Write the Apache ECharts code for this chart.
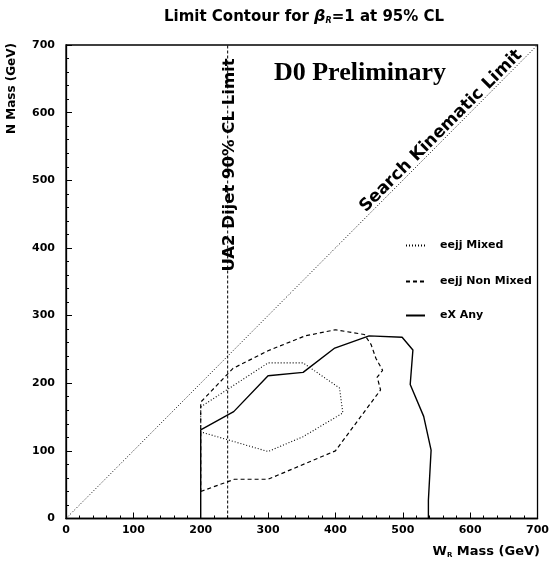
<!DOCTYPE html>
<html>
<head>
<meta charset="utf-8">
<script src="https://cdn.jsdelivr.net/npm/echarts@6/dist/echarts.min.js"></script>
<style>
html,body{margin:0;padding:0;background:#fff;}
#chart{width:552px;height:567px;}
</style>
</head>
<body>
<div id="chart"></div>
<script>
// ---- data ----
var xTicks = [0, 100, 200, 300, 400, 500, 600, 700];
var yTicks = [0, 100, 200, 300, 400, 500, 600, 700];
var seriesNames = ['eejj Mixed', 'eejj Non Mixed', 'eX Any'];
var eejjMixed = [[200,165],[300,230],[352,230],[406,193],[411,156],[352,121],[300,99],[200,128],[200,165]];
var eejjNonMixed = [[200,40],[250,58],[300,58],[400,100],[458,178],[467,190],[462,209],[470,219],[460,237],[453,257],[443,272],[400,279],[355,270],[300,248],[248,222],[200,172],[200,40]];
var eXAny = [[200,0],[200,131],[249,158],[300,211],[352,216],[399,252],[450,270],[499,268],[515,249],[511,198],[531,151],[542,101],[538,27],[538,0]];
var kinematicLimit = [[0,0],[700,700]];
var ua2Limit = [[240,0],[240,700]];

var FONT = 'DejaVu Sans';
var chart = echarts.init(document.getElementById('chart'), null, {renderer:'canvas'});

function mkLegend(name, top){
  return {
    data:[name], left:405, top:top, orient:'vertical', padding:0,
    itemWidth:19, itemHeight:10, selectedMode:false,
    itemStyle:{opacity:0},
    textStyle:{fontFamily:FONT, fontWeight:'bold', fontSize:11, color:'#000', padding:[0,0,0,10]}
  };
}
function lineSeries(name, data, type, w){
  return {
    name:name, type:'line', data:data, symbol:'none', silent:true, color:'#000',
    itemStyle:{color:'#000'},
    lineStyle:{color:'#000', width:w, type:type}, z:3
  };
}

var option = {
  animation:false,
  backgroundColor:'#fff',
  color:['#000'],
  title:{
    text:'Limit Contour for {b|β}{s|R}=1 at 95% CL',
    left:159, top:4,
    textStyle:{fontFamily:FONT, fontWeight:'bold', fontSize:15, color:'#000',
      rich:{
        b:{fontFamily:FONT, fontWeight:'bold', fontStyle:'italic', fontSize:16, color:'#000'},
        s:{fontFamily:FONT, fontWeight:'bold', fontStyle:'italic', fontSize:8, color:'#000', verticalAlign:'bottom', padding:[8,0,0,0]}
      }
    }
  },
  legend:[mkLegend(seriesNames[0],240), mkLegend(seriesNames[1],276), mkLegend(seriesNames[2],310)],
  grid:{left:66, top:45, right:10.5, bottom:48.5, show:true, borderColor:'#000', borderWidth:1.3, backgroundColor:'transparent'},
  xAxis:{
    type:'value', min:xTicks[0], max:xTicks[xTicks.length-1], interval:100,
    axisLine:{show:true, lineStyle:{color:'#000', width:1.3}},
    axisTick:{show:true, inside:true, length:6, lineStyle:{color:'#000'}},
    minorTick:{show:true, splitNumber:5, length:3, lineStyle:{color:'#000'}},
    splitLine:{show:false},
    axisLabel:{fontFamily:FONT, fontWeight:'bold', fontSize:11, color:'#000', margin:6}
  },
  yAxis:{
    type:'value', min:yTicks[0], max:yTicks[yTicks.length-1], interval:100,
    axisLine:{show:true, lineStyle:{color:'#000', width:1.3}},
    axisTick:{show:true, inside:true, length:6, lineStyle:{color:'#000'}},
    minorTick:{show:true, splitNumber:5, length:3, lineStyle:{color:'#000'}},
    splitLine:{show:false},
    axisLabel:{fontFamily:FONT, fontWeight:'bold', fontSize:11, color:'#000', margin:11}
  },
  series:[
    lineSeries(seriesNames[0], eejjMixed, [1,2], 1.1),
    lineSeries(seriesNames[1], eejjNonMixed, [4,3], 1.2),
    lineSeries(seriesNames[2], eXAny, 'solid', 1.4),
    {type:'line', data:kinematicLimit, symbol:'none', silent:true, color:'#000', lineStyle:{color:'#000', width:1, type:[1,2]}, z:2},
    {type:'line', data:ua2Limit, symbol:'none', silent:true, color:'#000', lineStyle:{color:'#000', width:1, type:[3,2]}, z:2}
  ],
  graphic:[
    {type:'text', x:12, y:43, rotation:Math.PI/2, z:10,
      style:{text:'N Mass (GeV)', fontFamily:FONT, fontWeight:'bold', fontSize:12, fill:'#000', align:'right', verticalAlign:'middle'}},
    {type:'text', x:540, y:552, z:10,
      style:{text:'W{s|R} Mass (GeV)', fontFamily:FONT, fontWeight:'bold', fontSize:13, fill:'#000', align:'right', verticalAlign:'middle',
        rich:{s:{fontFamily:FONT, fontWeight:'bold', fontSize:7, fill:'#000', padding:[7,0,0,0]}}}},
    {type:'text', x:360, y:73, z:10,
      style:{text:'D0 Preliminary', fontFamily:'Liberation Serif', fontWeight:'bold', fontSize:26, fill:'#000', align:'center', verticalAlign:'middle'}},
    {type:'text', x:229.5, y:165, rotation:Math.PI/2, z:10,
      style:{text:'UA2 Dijet 90% CL Limit', fontFamily:FONT, fontWeight:'bold', fontSize:16.5, fill:'#000', align:'center', verticalAlign:'middle'}},
    {type:'text', x:441, y:131, rotation:Math.PI/4, z:10,
      style:{text:'Search Kinematic Limit', fontFamily:FONT, fontWeight:'bold', fontSize:17, fill:'#000', align:'center', verticalAlign:'middle'}}
  ]
};
chart.setOption(option);
</script>
</body>
</html>
